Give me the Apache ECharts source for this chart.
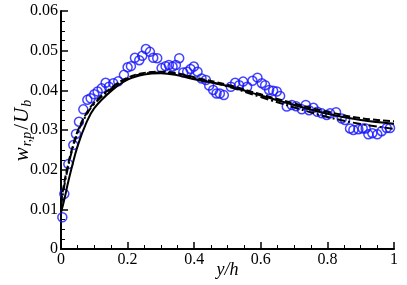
<!DOCTYPE html>
<html><head><meta charset="utf-8">
<script src="https://cdn.jsdelivr.net/npm/echarts@6/dist/echarts.min.js"></script>
<style>html,body{margin:0;padding:0;background:#fff}#c{width:407px;height:285px}</style>
</head><body><div id="c"></div>
<script>
// Experimental data (circles)
const expX = [0.004,0.010,0.022,0.037,0.045,0.054,0.067,0.079,0.089,0.100,0.110,0.122,0.134,0.144,0.157,0.172,0.189,0.200,0.210,0.222,0.235,0.244,0.255,0.267,0.277,0.289,0.302,0.314,0.324,0.335,0.345,0.355,0.367,0.379,0.389,0.399,0.410,0.422,0.435,0.445,0.457,0.467,0.477,0.489,0.510,0.523,0.535,0.547,0.559,0.575,0.590,0.603,0.613,0.625,0.637,0.648,0.658,0.678,0.693,0.706,0.723,0.735,0.745,0.758,0.770,0.783,0.798,0.808,0.826,0.843,0.853,0.868,0.878,0.893,0.906,0.915,0.923,0.935,0.950,0.963,0.978,0.988];
const expY = [0.0080,0.0139,0.0214,0.0262,0.0290,0.0321,0.0352,0.0376,0.0380,0.0390,0.0397,0.0405,0.0419,0.0409,0.0418,0.0423,0.0439,0.0458,0.0461,0.0482,0.0476,0.0487,0.0504,0.0497,0.0482,0.0481,0.0456,0.0461,0.0464,0.0460,0.0464,0.0481,0.0445,0.0447,0.0454,0.0460,0.0447,0.0430,0.0426,0.0412,0.0401,0.0392,0.0392,0.0388,0.0409,0.0419,0.0413,0.0422,0.0409,0.0424,0.0432,0.0418,0.0413,0.0401,0.0399,0.0397,0.0386,0.0359,0.0363,0.0360,0.0352,0.0363,0.0350,0.0356,0.0346,0.0342,0.0338,0.0342,0.0345,0.0329,0.0325,0.0304,0.0300,0.0302,0.0304,0.0304,0.0289,0.0292,0.0289,0.0297,0.0305,0.0305];
// Model curves
const lineX = [0,0.01,0.02,0.03,0.05,0.075,0.1,0.15,0.2,0.25,0.3,0.35,0.4,0.5,0.6,0.7,0.8,0.9,1.0];
const solidY = [0.0092,0.0125,0.0163,0.0198,0.0260,0.0316,0.0355,0.0398,0.0427,0.0440,0.0443,0.0438,0.0428,0.0411,0.0387,0.0363,0.0341,0.0325,0.0316];
const dashY  = [0.0118,0.0168,0.0208,0.0243,0.0297,0.0340,0.0369,0.0406,0.0432,0.0444,0.0447,0.0443,0.0433,0.0414,0.0390,0.0367,0.0346,0.0330,0.0322];
const dashDotY = [0.0108,0.0160,0.0202,0.0238,0.0293,0.0336,0.0366,0.0403,0.0430,0.0442,0.0445,0.0441,0.0431,0.0410,0.0383,0.0357,0.0333,0.0315,0.0303];
const xTicks = ['0','0.2','0.4','0.6','0.8','1'];
const yTicks = ['0','0.01','0.02','0.03','0.04','0.05','0.06'];

const zip = (xs, ys) => xs.map((x, i) => [x, ys[i]]);
const font = 'Liberation Serif';
const chart = echarts.init(document.getElementById('c'), null, {renderer: 'canvas'});
chart.setOption({
  animation: false,
  backgroundColor: '#fff',
  grid: {left: 61, right: 13, top: 11, bottom: 36, containLabel: false, outerBoundsMode: 'none'},
  xAxis: {
    type: 'value', min: 0, max: 1, interval: 0.2,
    name: 'y/h', nameLocation: 'middle', nameGap: 12, nameMoveOverlap: false,
    nameTextStyle: {fontFamily: font, fontStyle: 'italic', fontSize: 18, color: '#000', verticalAlign: 'top'},
    axisLine: {lineStyle: {color: '#000', width: 2}},
    axisTick: {inside: true, length: 7, lineStyle: {color: '#000', width: 1.5}},
    minorTick: {show: true, splitNumber: 4, length: 4, lineStyle: {color: '#000', width: 1}},
    splitLine: {show: false},
    axisLabel: {fontFamily: font, fontSize: 16, color: '#000', margin: 3,
      formatter: v => xTicks[Math.round(v / 0.2)]}
  },
  yAxis: {
    type: 'value', min: 0, max: 0.06, interval: 0.01,
    name: '{i|w}{s|r,p}{n|/}{i|U}{s|b}', nameLocation: 'middle', nameGap: 27, nameMoveOverlap: false,
    nameTextStyle: {
      fontFamily: font, fontSize: 20, color: '#000',
      rich: {
        i: {fontFamily: font, fontStyle: 'italic', fontSize: 21, color: '#000', lineHeight: 24, verticalAlign: 'middle'},
        n: {fontFamily: font, fontSize: 21, color: '#000', lineHeight: 24, verticalAlign: 'middle', padding: [0, 1, 0, 1]},
        s: {fontFamily: font, fontStyle: 'italic', fontSize: 14, color: '#000', lineHeight: 24, verticalAlign: 'bottom', padding: [9, 1, 0, 1]}
      }
    },
    axisLine: {show: true, lineStyle: {color: '#000', width: 2}},
    axisTick: {show: true, inside: true, length: 7, lineStyle: {color: '#000', width: 1.5}},
    minorTick: {show: true, splitNumber: 4, length: 4, lineStyle: {color: '#000', width: 1}},
    splitLine: {show: false},
    axisLabel: {fontFamily: font, fontSize: 16, color: '#000', margin: 3,
      formatter: v => yTicks[Math.round(v / 0.01)]}
  },
  series: [
    {type: 'scatter', data: zip(expX, expY), symbol: 'circle', symbolSize: 9,
      itemStyle: {color: 'rgba(0,0,0,0)', borderColor: '#1515ff', borderWidth: 1.5}, z: 2},
    {type: 'line', data: zip(lineX, solidY), smooth: 0.4, showSymbol: false, symbol: 'none',
      lineStyle: {color: '#000', width: 2, type: 'solid'}, z: 3},
    {type: 'line', data: zip(lineX, dashY), smooth: 0.4, showSymbol: false, symbol: 'none',
      lineStyle: {color: '#000', width: 2, type: [7, 3]}, z: 3},
    {type: 'line', data: zip(lineX, dashDotY), smooth: 0.4, showSymbol: false, symbol: 'none',
      lineStyle: {color: '#000', width: 2, type: [8, 3, 2, 3]}, z: 3}
  ]
});
</script>
</body></html>
